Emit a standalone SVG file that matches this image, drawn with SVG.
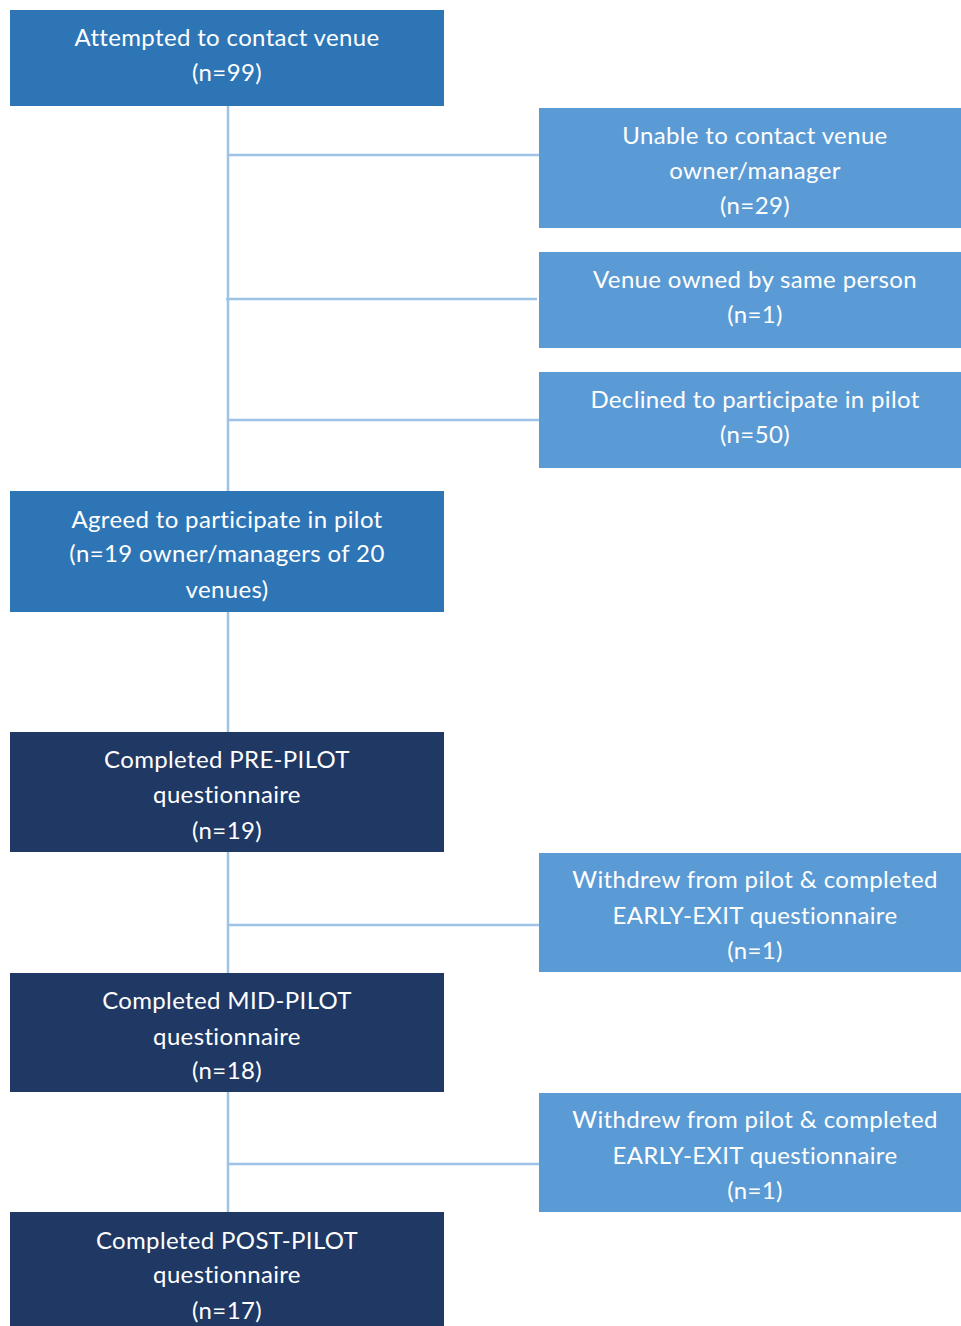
<svg xmlns="http://www.w3.org/2000/svg" width="961" height="1326" viewBox="0 0 961 1326">
<style>
.mid{fill:#2E75B6}
.lt{fill:#5B9BD5}
.dk{fill:#203864}
text{font-family:Lato,"Open Sans",sans-serif;font-size:24px;letter-spacing:0.35px;fill:#fff;text-anchor:middle}
.c line{stroke:#9DC3E6;stroke-width:2.5}
</style>
<rect width="961" height="1326" fill="#fff"/>
<g class="c" id="connectors">
<line x1="228" y1="106" x2="228" y2="491"/>
<line x1="228" y1="155" x2="539" y2="155"/>
<line x1="226" y1="299" x2="537" y2="299"/>
<line x1="229" y1="420" x2="539" y2="420"/>
<line x1="228" y1="612" x2="228" y2="732"/>
<line x1="228" y1="852" x2="228" y2="973"/>
<line x1="228" y1="925" x2="539" y2="925"/>
<line x1="228" y1="1092" x2="228" y2="1212"/>
<line x1="228" y1="1164" x2="539" y2="1164"/>
</g>
<g id="n1"><rect class="mid" x="10" y="10" width="434" height="96"/>
<text x="227" y="46">Attempted to contact venue</text><text x="227" y="81">(n=99)</text></g>
<g id="n2"><rect class="lt" x="539" y="108" width="422" height="120"/>
<text x="755" y="144">Unable to contact venue</text><text x="755" y="179">owner/manager</text><text x="755" y="214">(n=29)</text></g>
<g id="n3"><rect class="lt" x="539" y="252" width="422" height="96"/>
<text x="755" y="288">Venue owned by same person</text><text x="755" y="323">(n=1)</text></g>
<g id="n4"><rect class="lt" x="539" y="372" width="422" height="96"/>
<text x="755" y="408">Declined to participate in pilot</text><text x="755" y="443">(n=50)</text></g>
<g id="n5"><rect class="mid" x="10" y="491" width="434" height="121"/>
<text x="227" y="528">Agreed to participate in pilot</text><text x="227" y="562">(n=19 owner/managers of 20</text><text x="227" y="598">venues)</text></g>
<g id="n6"><rect class="dk" x="10" y="732" width="434" height="120"/>
<text x="227" y="768">Completed PRE-PILOT</text><text x="227" y="803">questionnaire</text><text x="227" y="839">(n=19)</text></g>
<g id="n7"><rect class="lt" x="539" y="853" width="422" height="119"/>
<text x="755" y="888">Withdrew from pilot &amp; completed</text><text x="755" y="924">EARLY-EXIT questionnaire</text><text x="755" y="959">(n=1)</text></g>
<g id="n8"><rect class="dk" x="10" y="973" width="434" height="119"/>
<text x="227" y="1009">Completed MID-PILOT</text><text x="227" y="1045">questionnaire</text><text x="227" y="1079">(n=18)</text></g>
<g id="n9"><rect class="lt" x="539" y="1093" width="422" height="119"/>
<text x="755" y="1128">Withdrew from pilot &amp; completed</text><text x="755" y="1164">EARLY-EXIT questionnaire</text><text x="755" y="1199">(n=1)</text></g>
<g id="n10"><rect class="dk" x="10" y="1212" width="434" height="114"/>
<text x="227" y="1249">Completed POST-PILOT</text><text x="227" y="1283">questionnaire</text><text x="227" y="1319">(n=17)</text></g>
</svg>
